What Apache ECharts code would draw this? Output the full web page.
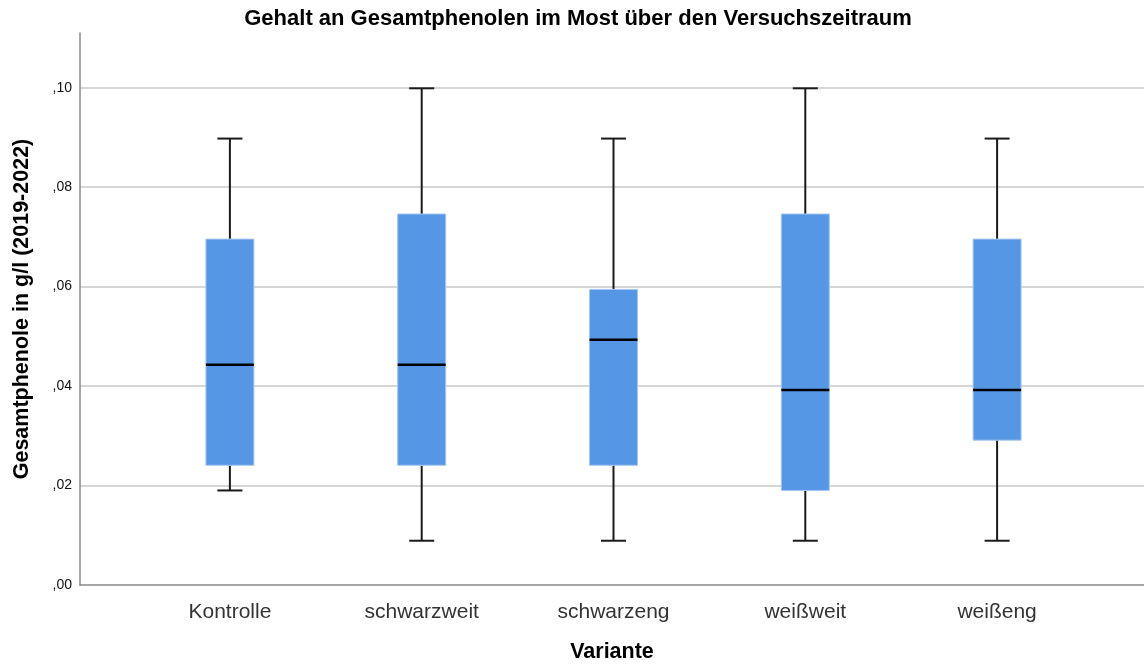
<!DOCTYPE html>
<html>
<head>
<meta charset="utf-8">
<style>
  html, body { margin: 0; padding: 0; background: #fff; }
  #chart { width: 1144px; height: 668px; }
</style>
<script src="https://cdn.jsdelivr.net/npm/echarts@6/dist/echarts.min.js"></script>
</head>
<body>
<div id="chart"></div>
<script>
// Varianten and their five-number summaries (g/l)
const categories = ['Kontrolle', 'schwarzweit', 'schwarzeng', 'weißweit', 'weißeng'];
const whiskerLow  = [0.02, 0.01, 0.01, 0.01, 0.01];
const quartile1   = [0.025, 0.025, 0.025, 0.02, 0.03];
const medians     = [0.045, 0.045, 0.05, 0.04, 0.04];
const quartile3   = [0.07, 0.075, 0.06, 0.075, 0.07];
const whiskerHigh = [0.09, 0.10, 0.09, 0.10, 0.09];
const yTicks = [0, 0.02, 0.04, 0.06, 0.08, 0.10];

const yMax = 0.111;
const fontFamily = '"Liberation Sans", Arial, sans-serif';

const boxData = categories.map((c, i) => [i, whiskerLow[i], quartile1[i], medians[i], quartile3[i], whiskerHigh[i]]);

const BOX_W = 48;
const CAP_W = 25;

function renderBox(params, api) {
  const i = api.value(0);
  const pLow = api.coord([i, api.value(1)]);
  const pQ1 = api.coord([i, api.value(2)]);
  const pMed = api.coord([i, api.value(3)]);
  const pQ3 = api.coord([i, api.value(4)]);
  const pHigh = api.coord([i, api.value(5)]);
  const x = pMed[0];
  const lineStyle = { stroke: '#1a1a1a', lineWidth: 2 };
  return {
    type: 'group',
    children: [
      { type: 'line', shape: { x1: x, y1: pHigh[1], x2: x, y2: pQ3[1] }, style: lineStyle },
      { type: 'line', shape: { x1: x, y1: pQ1[1], x2: x, y2: pLow[1] }, style: lineStyle },
      { type: 'line', shape: { x1: x - CAP_W / 2, y1: pHigh[1], x2: x + CAP_W / 2, y2: pHigh[1] }, style: lineStyle },
      { type: 'line', shape: { x1: x - CAP_W / 2, y1: pLow[1], x2: x + CAP_W / 2, y2: pLow[1] }, style: lineStyle },
      { type: 'rect', shape: { x: x - BOX_W / 2, y: pQ3[1], width: BOX_W, height: pQ1[1] - pQ3[1] },
        style: { fill: '#5697e5', stroke: '#a8c7ef', lineWidth: 1 } },
      { type: 'line', shape: { x1: x - BOX_W / 2, y1: pMed[1], x2: x + BOX_W / 2, y2: pMed[1] },
        style: { stroke: '#000', lineWidth: 2.5 } }
    ]
  };
}

const chart = echarts.init(document.getElementById('chart'), null, { renderer: 'canvas' });

const gridColors = ['transparent'].concat(yTicks.slice(1).map(() => '#c8c8c8'), ['transparent']);

chart.setOption({
  animation: false,
  backgroundColor: '#fff',
  title: {
    text: 'Gehalt an Gesamtphenolen im Most über den Versuchszeitraum',
    left: 573, top: 3, textAlign: 'center',
    textStyle: { fontFamily, fontSize: 22, fontWeight: 'bold', color: '#000' }
  },
  grid: [
    { left: 80, right: 0, top: 33, bottom: 77 },
    { left: 134, right: 51, top: 33, bottom: 77 }
  ],
  xAxis: [
    {
      gridIndex: 0, type: 'value', min: 0, max: 1,
      axisLine: { show: true, lineStyle: { color: '#888', width: 1.5 } },
      axisTick: { show: false }, axisLabel: { show: false }, splitLine: { show: false },
      name: 'Variante', nameLocation: 'middle', nameGap: 56,
      nameTextStyle: { fontFamily, fontSize: 21.5, fontWeight: 'bold', color: '#000' }
    },
    {
      gridIndex: 1, type: 'category', data: categories,
      axisLine: { show: false }, axisTick: { show: false },
      axisLabel: { fontFamily, fontSize: 21, color: '#333', margin: 11 }
    }
  ],
  yAxis: [
    {
      gridIndex: 0, type: 'value', min: 0, max: yMax, interval: 0.02,
      axisLine: { show: true, lineStyle: { color: '#888', width: 1.5 } },
      axisTick: { show: false },
      axisLabel: {
        fontFamily, fontSize: 14, color: '#111', margin: 8, showMaxLabel: false,
        formatter: v => ',' + v.toFixed(2).split('.')[1]
      },
      splitLine: { show: true, lineStyle: { color: gridColors, width: 1.5 } },
      name: 'Gesamtphenole in g/l (2019-2022)', nameLocation: 'middle', nameGap: 47,
      nameTextStyle: { fontFamily, fontSize: 21.5, fontWeight: 'bold', color: '#000' }
    },
    {
      gridIndex: 1, type: 'value', min: 0, max: yMax, show: false
    }
  ],
  series: [
    {
      type: 'custom', xAxisIndex: 1, yAxisIndex: 1,
      data: boxData,
      encode: { x: 0, y: [1, 2, 3, 4, 5] },
      renderItem: renderBox
    }
  ]
});
</script>
</body>
</html>
